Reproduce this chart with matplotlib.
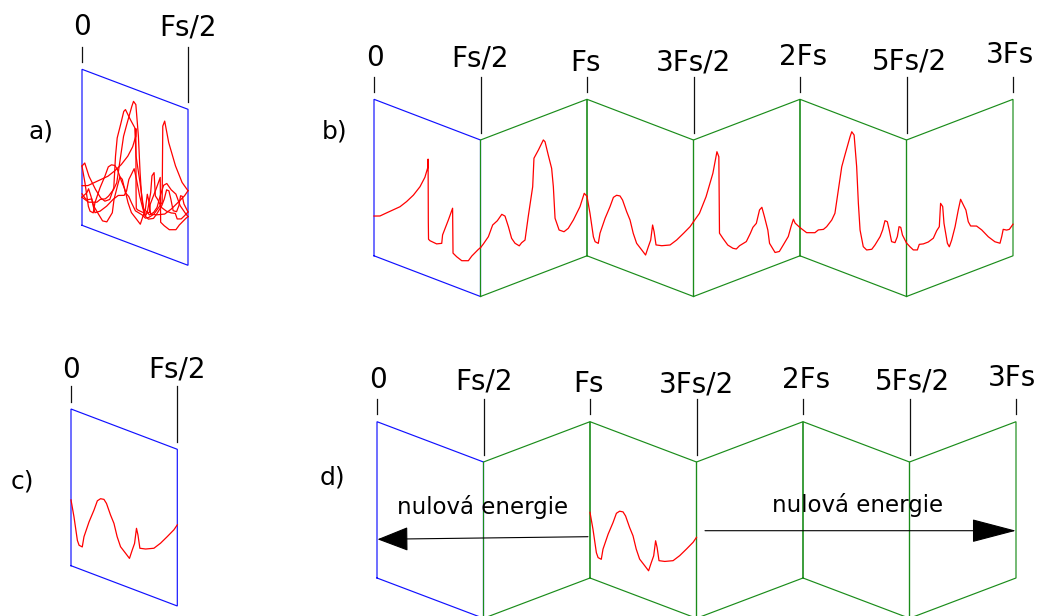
import numpy as np
import matplotlib
matplotlib.use("Agg")
import matplotlib.pyplot as plt
from matplotlib.transforms import Affine2D

# Spectrum of the analogue signal from 0 to 3Fs.
# Frequency in multiples of Fs, level as a fraction of the strip height.
spectrum_freq = [
    0.000, 0.028, 0.060, 0.122, 0.153, 0.185, 0.216, 0.239, 0.253, 0.254,
    0.255, 0.256, 0.263, 0.294, 0.318, 0.322, 0.349, 0.369, 0.371, 0.388,
    0.412, 0.443, 0.459, 0.490, 0.500,
    0.513, 0.537, 0.557, 0.579, 0.600, 0.615, 0.631, 0.646, 0.662, 0.682,
    0.693, 0.709, 0.724, 0.745, 0.751, 0.772, 0.795, 0.803, 0.818, 0.834,
    0.842, 0.850, 0.869, 0.892, 0.912, 0.936, 0.967, 0.987, 1.000,
    1.014, 1.030, 1.038, 1.053, 1.061, 1.085, 1.108, 1.124, 1.139, 1.155,
    1.167, 1.186, 1.202, 1.217, 1.233, 1.257, 1.275, 1.288, 1.299, 1.308,
    1.315, 1.324, 1.351, 1.390, 1.421, 1.453, 1.484, 1.500,
    1.528, 1.559, 1.591, 1.610, 1.619, 1.622, 1.638, 1.661, 1.685, 1.701,
    1.716, 1.748, 1.767, 1.779, 1.795, 1.810, 1.821, 1.833, 1.849, 1.857,
    1.875, 1.883, 1.903, 1.922, 1.945, 1.958, 1.969, 1.977, 2.000,
    2.031, 2.070, 2.086, 2.110, 2.125, 2.149, 2.164, 2.180, 2.196, 2.211,
    2.235, 2.243, 2.254, 2.266, 2.274, 2.282, 2.297, 2.313, 2.337, 2.352,
    2.376, 2.388, 2.399, 2.410, 2.419, 2.430, 2.446, 2.457, 2.465, 2.473,
    2.481, 2.493, 2.500,
    2.516, 2.532, 2.551, 2.560, 2.579, 2.602, 2.626, 2.642, 2.654, 2.660,
    2.670, 2.676, 2.692, 2.701, 2.712, 2.728, 2.743, 2.754, 2.767, 2.779,
    2.790, 2.801, 2.829, 2.853, 2.884, 2.915, 2.939, 2.947, 2.954, 2.970,
    2.983, 3.000,
]
spectrum_level = [
    0.254, 0.269, 0.306, 0.377, 0.426, 0.484, 0.554, 0.626, 0.698, 0.750,
    0.349, 0.239, 0.233, 0.229, 0.245, 0.301, 0.410, 0.496, 0.210, 0.196,
    0.183, 0.199, 0.237, 0.296, 0.312,
    0.328, 0.363, 0.427, 0.443, 0.473, 0.454, 0.378, 0.296, 0.256, 0.229,
    0.243, 0.252, 0.393, 0.574, 0.753, 0.795, 0.847, 0.831, 0.739, 0.645,
    0.524, 0.318, 0.233, 0.210, 0.221, 0.262, 0.331, 0.406, 0.380,
    0.279, 0.137, 0.110, 0.107, 0.176, 0.284, 0.370, 0.438, 0.459, 0.463,
    0.443, 0.379, 0.334, 0.257, 0.201, 0.171, 0.148, 0.208, 0.256, 0.357,
    0.318, 0.238, 0.247, 0.272, 0.320, 0.379, 0.438, 0.478,
    0.517, 0.607, 0.740, 0.868, 0.831, 0.341, 0.300, 0.245, 0.212, 0.199,
    0.212, 0.222, 0.265, 0.297, 0.314, 0.392, 0.403, 0.337, 0.243, 0.154,
    0.104, 0.082, 0.078, 0.111, 0.152, 0.209, 0.250, 0.221, 0.180,
    0.164, 0.184, 0.210, 0.226, 0.251, 0.306, 0.357, 0.514, 0.671, 0.754,
    0.883, 0.919, 0.904, 0.708, 0.478, 0.311, 0.213, 0.200, 0.217, 0.252,
    0.318, 0.367, 0.432, 0.431, 0.383, 0.314, 0.316, 0.360, 0.428, 0.428,
    0.383, 0.357, 0.342,
    0.310, 0.281, 0.271, 0.302, 0.295, 0.295, 0.307, 0.347, 0.366, 0.512,
    0.486, 0.376, 0.240, 0.213, 0.250, 0.327, 0.426, 0.489, 0.446, 0.407,
    0.327, 0.294, 0.279, 0.242, 0.182, 0.134, 0.112, 0.150, 0.193, 0.180,
    0.178, 0.202,
]

band_edges = [0.0, 0.5, 1.0, 1.5, 2.0, 2.5, 3.0]
edge_labels = ["0", "Fs/2", "Fs", "3Fs/2", "2Fs", "5Fs/2", "3Fs"]
baseband_labels = ["0", "Fs/2"]
panel_letters = ["a)", "b)", "c)", "d)"]
passband = 2            # the Fs .. 3Fs/2 band kept by the band-pass filter
note_text = "nulová energie"

freq = np.array(spectrum_freq)
level = np.array(spectrum_level)

BLUE = "#1010ff"
GREEN = "#1a8c1a"
RED = "#ff0000"
INK = "#111111"

# strip geometry in figure pixels: left x, band width, top edge at the
# upper folds, drop of the top edge across one band, strip height
STRIP_A = (82.0, 106.0, 69.3, 40.0, 156.0)
STRIP_B = (374.0, 106.5, 99.3, 40.7, 156.5)
STRIP_C = (71.0, 106.3, 409.0, 40.3, 156.7)
STRIP_D = (377.0, 106.5, 421.7, 40.3, 156.3)
LOWER_LIFT = 0.04

fig = plt.figure(figsize=(10.38, 6.16), dpi=100)
ax = fig.add_axes([0, 0, 1, 1])
ax.set_xlim(0, 1038)
ax.set_ylim(616, 0)
ax.axis("off")


def zigzag(strip, k, lift=0.0):
    """(freq, level) of band k -> pixel position on the unfolded strip."""
    x0, w, top, drop, h = strip
    if k % 2 == 0:
        m = [[2 * w, 0, x0],
             [2 * drop, -h, top - drop * k + h - h * lift],
             [0, 0, 1]]
    else:
        m = [[2 * w, 0, x0],
             [-2 * drop, -h, top + drop * (k + 1) + h - h * lift],
             [0, 0, 1]]
    return Affine2D(np.array(m, float)) + ax.transData


def folded(strip, k, lift=0.0):
    """(freq, level) of band k folded back onto the 0 .. Fs/2 strip."""
    x0, w, top, drop, h = strip
    if k % 2 == 0:
        m = [[2 * w, 0, x0 - w * k],
             [2 * drop, -h, top - drop * k + h - h * lift],
             [0, 0, 1]]
    else:
        m = [[-2 * w, 0, x0 + w * (k + 1)],
             [-2 * drop, -h, top + drop * (k + 1) + h - h * lift],
             [0, 0, 1]]
    return Affine2D(np.array(m, float)) + ax.transData


def band(k):
    lo, hi = band_edges[k], band_edges[k + 1]
    sel = (freq >= lo) & (freq <= hi)
    return freq[sel], level[sel]


def frame(k, transform, color):
    lo, hi = band_edges[k], band_edges[k + 1]
    ax.plot([lo, lo, hi, hi, lo], [0, 1, 1, 0, 0], color=color, lw=0.85,
            transform=transform, solid_joinstyle="miter")


def strip_ticks(strip, tick_top, baselines, labels, n_edges, nudges=None,
                gap=7.5):
    x0, w, top, drop, h = strip
    nudges = nudges or [0.0] * n_edges
    for i in range(n_edges):
        x = x0 + w * i
        edge_top = top + (drop if i % 2 else 0.0)
        ax.plot([x, x], [tick_top, edge_top - gap], color=INK, lw=0.9)
        ax.text(x + nudges[i], baselines[i], labels[i], ha="center",
                va="baseline", fontsize=20, color="black")


# --- a) every band folded onto 0 .. Fs/2 -------------------------------
frame(0, folded(STRIP_A, 0), BLUE)
for k in range(6):
    f, v = band(k)
    ax.plot(f, v, color=RED, lw=0.9, transform=folded(STRIP_A, k))
strip_ticks(STRIP_A, 46.7, [35.0, 35.0], baseband_labels, 2)

# --- b) unfolded spectrum 0 .. 3Fs ---------------------------------------
frame(0, zigzag(STRIP_B, 0), BLUE)
for k in range(1, 6):
    frame(k, zigzag(STRIP_B, k), GREEN)
for k in range(6):
    f, v = band(k)
    ax.plot(f, v, color=RED, lw=0.9, transform=zigzag(STRIP_B, k))
strip_ticks(STRIP_B, 77.0, [65.7, 66.7, 70.7, 70.7, 65.0, 69.3, 63.3],
            edge_labels, 7, nudges=[1, -1, -1.5, 0, 3, 2.5, -3])

# --- c) band-pass filtered signal folded onto 0 .. Fs/2 -------------------
frame(0, folded(STRIP_C, 0), BLUE)
f, v = band(passband)
ax.plot(f, v, color=RED, lw=0.9, transform=folded(STRIP_C, passband, LOWER_LIFT))
strip_ticks(STRIP_C, 386.0, [378.0, 378.0], baseband_labels, 2)

# --- d) filtered spectrum, energy only in Fs .. 3Fs/2 --------------------
frame(0, zigzag(STRIP_D, 0), BLUE)
for k in range(1, 6):
    frame(k, zigzag(STRIP_D, k), GREEN)
ax.plot(f, v, color=RED, lw=0.9, transform=zigzag(STRIP_D, passband, LOWER_LIFT))
strip_ticks(STRIP_D, 398.5, [388.3, 389.0, 392.3, 392.3, 388.3, 390.0, 385.7],
            edge_labels, 7, nudges=[1, 0, -1.5, 0, 3.5, 3, -4.5])

# zero-energy arrows and notes
ax.annotate("", xy=(377.5, 539.3), xytext=(588.0, 536.7),
            arrowprops=dict(arrowstyle="-|>,head_length=2.0,head_width=0.78",
                            color="black", lw=0.8, shrinkA=0, shrinkB=0))
ax.annotate("", xy=(1016.0, 530.7), xytext=(705.0, 530.7),
            arrowprops=dict(arrowstyle="-|>,head_length=2.9,head_width=0.76",
                            color="black", lw=0.8, shrinkA=0, shrinkB=0))
ax.text(483.0, 514.0, note_text, ha="center", va="baseline", fontsize=16.5)
ax.text(858.0, 511.7, note_text, ha="center", va="baseline", fontsize=16.5)

# panel letters
for (x, y), letter in zip([(40.5, 139.0), (335.0, 139.0), (22.0, 489.0),
                           (332.5, 484.0)], panel_letters):
    ax.text(x, y, letter, ha="center", va="baseline", fontsize=18)

fig.savefig("out.png", dpi=100)
